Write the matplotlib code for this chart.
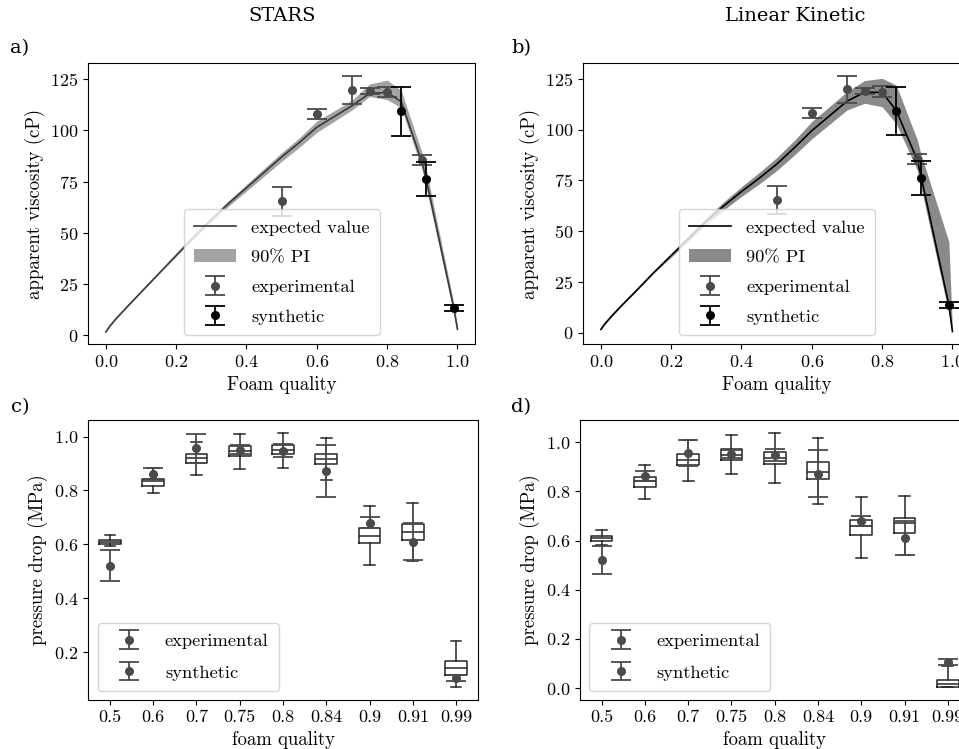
import matplotlib
matplotlib.use("Agg")
import matplotlib.pyplot as plt

plt.rcParams.update({
    "font.family": "cmr10",
    "mathtext.fontset": "cm",
    "axes.formatter.use_mathtext": True,
    "axes.unicode_minus": False,
    "font.size": 13.5,
    "axes.labelsize": 13.5,
    "xtick.labelsize": 13,
    "ytick.labelsize": 13,
})

# ---------------- apparent viscosity curves (cP) ----------------
quality = [0.0, 0.01, 0.03, 0.06, 0.10, 0.15, 0.20, 0.25, 0.30, 0.35, 0.40,
           0.45, 0.50, 0.55, 0.60, 0.70, 0.75, 0.80, 0.84, 0.90, 0.91, 0.99, 1.0]

stars_mean = [1.6, 4.2, 8.3, 13.8, 21.0, 30.0, 39.0, 48.0, 56.5, 64.5, 72.0,
              79.5, 87.0, 94.0, 101.5, 112.0, 118.0, 118.5, 114.0, 84.0, 77.0, 13.0, 3.0]
stars_lo = [1.5, 4.0, 8.1, 13.6, 20.8, 29.8, 38.5, 47.2, 55.4, 63.2, 70.4,
            77.6, 84.9, 91.7, 99.0, 109.9, 116.5, 115.0, 111.0, 80.6, 73.0, 10.5, 1.8]
stars_hi = [1.7, 4.4, 8.5, 14.0, 21.2, 30.2, 39.5, 48.8, 57.6, 65.8, 73.6,
            81.4, 89.1, 96.3, 104.5, 114.7, 122.6, 124.5, 119.5, 88.7, 82.0, 15.5, 4.5]

lk_mean = [1.5, 4.0, 8.0, 13.5, 20.5, 29.5, 38.0, 46.5, 55.0, 62.5, 69.5,
           76.0, 83.0, 91.0, 99.5, 114.0, 118.4, 118.4, 109.5, 85.0, 77.6, 13.5, 0.5]
lk_lo = [1.3, 3.7, 7.7, 13.2, 20.2, 29.2, 37.2, 45.3, 53.4, 60.5, 67.1,
         73.2, 79.8, 87.4, 95.5, 109.7, 113.0, 111.3, 103.0, 80.0, 72.0, 9.4, 0.2]
lk_hi = [1.7, 4.3, 8.3, 13.8, 20.8, 29.8, 38.8, 47.7, 56.6, 64.5, 71.9,
         78.8, 86.2, 94.6, 104.0, 118.7, 124.2, 125.3, 122.0, 95.0, 88.3, 44.7, 1.0]

# measured / synthetic viscosity points
exp_q = [0.5, 0.6, 0.7, 0.75, 0.8, 0.9]
exp_mu = [65.4, 108.0, 119.8, 119.0, 118.8, 85.4]
exp_mu_err = [7.0, 2.5, 6.8, 1.5, 2.5, 2.5]
syn_q = [0.84, 0.91, 0.99]
syn_mu = [109.2, 76.2, 13.4]
syn_mu_err = [11.8, 8.3, 1.5]

# ---------------- pressure drop (MPa) ----------------
quality_labels = ["0.5", "0.6", "0.7", "0.75", "0.8", "0.84", "0.9", "0.91", "0.99"]
exp_pos = [1, 2, 3, 4, 5, 7]
exp_dp = [0.521, 0.862, 0.957, 0.951, 0.948, 0.680]
exp_dp_err = [0.057, 0.020, 0.054, 0.016, 0.025, 0.020]
syn_pos = [6, 8, 9]
syn_dp = [0.872, 0.610, 0.106]
syn_dp_err = [0.095, 0.068, 0.011]

# box statistics per foam quality: lower whisker, q1, median, q3, upper whisker
stars_whislo = [0.596, 0.789, 0.859, 0.881, 0.885, 0.840, 0.524, 0.538, 0.071]
stars_q1 = [0.601, 0.818, 0.903, 0.929, 0.934, 0.897, 0.605, 0.617, 0.116]
stars_med = [0.609, 0.835, 0.919, 0.946, 0.951, 0.916, 0.632, 0.647, 0.143]
stars_q3 = [0.616, 0.844, 0.936, 0.963, 0.967, 0.936, 0.661, 0.675, 0.167]
stars_whishi = [0.635, 0.882, 0.979, 1.008, 1.014, 0.994, 0.743, 0.754, 0.2435]

lk_whislo = [0.581, 0.769, 0.842, 0.869, 0.834, 0.750, 0.530, 0.543, 0.003]
lk_q1 = [0.598, 0.818, 0.907, 0.929, 0.912, 0.851, 0.622, 0.631, 0.004]
lk_med = [0.610, 0.841, 0.930, 0.949, 0.935, 0.881, 0.658, 0.672, 0.016]
lk_q3 = [0.620, 0.860, 0.953, 0.972, 0.962, 0.918, 0.685, 0.692, 0.031]
lk_whishi = [0.642, 0.908, 1.010, 1.031, 1.039, 1.018, 0.778, 0.781, 0.088]

EXP_COLOR = "#4a4a4a"
W, H = 959, 749


def rect(left, top, right, bottom):
    return [left / W, 1 - bottom / H, (right - left) / W, (bottom - top) / H]


fig = plt.figure(figsize=(W / 100, H / 100), dpi=100)
ax_a = fig.add_axes(rect(88.3, 62.7, 475.0, 344.3))
ax_b = fig.add_axes(rect(583.3, 62.7, 970.0, 344.3))
ax_c = fig.add_axes(rect(88.3, 420.0, 477.7, 700.0))
ax_d = fig.add_axes(rect(580.0, 420.0, 969.4, 700.0))

eb_style = dict(fmt="o", ms=5.5, capsize=7.5, elinewidth=1.3, capthick=1.3)
legend_kw = dict(fontsize=13.3, handlelength=2.3, borderpad=0.55)


def viscosity_panel(ax, mean, lo, hi, line_color, band_color, ylim):
    band = ax.fill_between(quality, lo, hi, color=band_color, lw=0, zorder=1)
    line, = ax.plot(quality, mean, color=line_color, lw=1.2, zorder=2)
    e1 = ax.errorbar(exp_q, exp_mu, yerr=exp_mu_err, color=EXP_COLOR, zorder=3, **eb_style)
    e2 = ax.errorbar(syn_q, syn_mu, yerr=syn_mu_err, color="black", zorder=4, **eb_style)
    ax.set_xlim(-0.05, 1.05)
    ax.set_ylim(*ylim)
    ax.set_yticks([0, 25, 50, 75, 100, 125])
    ax.set_xticks([0.0, 0.2, 0.4, 0.6, 0.8, 1.0])
    ax.set_xlabel("Foam quality")
    ax.set_ylabel("apparent viscosity (cP)")
    ax.legend([line, band, e1, e2],
              ["expected value", "90% PI", "experimental", "synthetic"],
              loc="lower center", labelspacing=0.75, **legend_kw)


def pressure_panel(ax, whislo, q1, med, q3, whishi):
    stats = [dict(whislo=a, q1=b, med=c, q3=d, whishi=e, fliers=[])
             for a, b, c, d, e in zip(whislo, q1, med, q3, whishi)]
    line_kw = dict(color="#262626", lw=1.1)
    ax.bxp(stats, positions=range(1, 10), widths=0.5, showfliers=False,
           boxprops=line_kw, whiskerprops=line_kw, capprops=line_kw,
           medianprops=line_kw)
    e1 = ax.errorbar(exp_pos, exp_dp, yerr=exp_dp_err, color=EXP_COLOR, zorder=3, **eb_style)
    e2 = ax.errorbar(syn_pos, syn_dp, yerr=syn_dp_err, color=EXP_COLOR, zorder=3, **eb_style)
    ax.set_xticks(range(1, 10))
    ax.set_xticklabels(quality_labels)
    ax.set_xlim(0.5, 9.5)
    ax.set_xlabel("foam quality")
    ax.set_ylabel("pressure drop (MPa)")
    ax.legend([e1, e2], ["experimental", "synthetic"], loc="lower left",
              labelspacing=0.85, **legend_kw)


viscosity_panel(ax_a, stars_mean, stars_lo, stars_hi, "#3a3a3a", "#a3a3a3", (-4.4, 133))
viscosity_panel(ax_b, lk_mean, lk_lo, lk_hi, "black", "#8a8a8a", (-5.8, 133))
pressure_panel(ax_c, stars_whislo, stars_q1, stars_med, stars_q3, stars_whishi)
pressure_panel(ax_d, lk_whislo, lk_q1, lk_med, lk_q3, lk_whishi)

label_kw = dict(family="DejaVu Serif", fontsize=14, ha="center", va="center")
fig.text(282 / W, 1 - 16 / H, "STARS", **label_kw)
fig.text(795 / W, 1 - 16 / H, "Linear Kinetic", **label_kw)
fig.text(20 / W, 1 - 48 / H, "a)", **label_kw)
fig.text(521 / W, 1 - 48 / H, "b)", **label_kw)
fig.text(20 / W, 1 - 407 / H, "c)", **label_kw)
fig.text(521 / W, 1 - 407 / H, "d)", **label_kw)

fig.savefig("out.png", dpi=100)
